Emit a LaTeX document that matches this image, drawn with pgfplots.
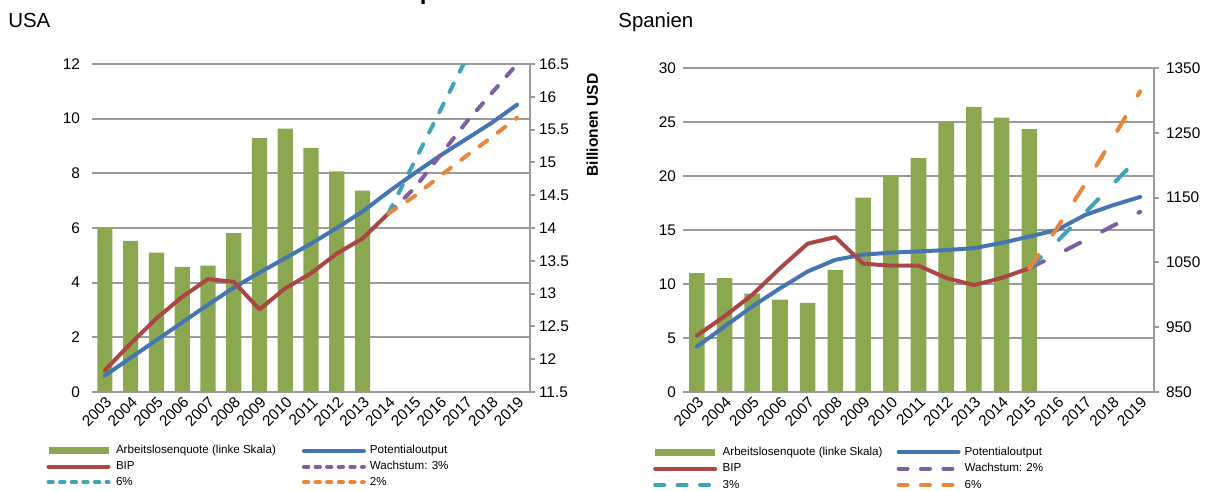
\documentclass[border=0pt]{standalone}
\usepackage{fontspec}
\setmainfont{Liberation Sans}
\usepackage{pgfplots}
\pgfplotsset{compat=1.18}
\definecolor{cgreen}{RGB}{139,167,80}
\definecolor{cblue}{RGB}{70,118,178}
\definecolor{cred}{RGB}{170,70,67}
\definecolor{cpurple}{RGB}{125,96,160}
\definecolor{ccyan}{RGB}{64,163,188}
\definecolor{corange}{RGB}{232,135,58}
\definecolor{cgrid}{RGB}{155,155,155}

% USA data
\pgfplotstableread{
x y
2003 6.0
2004 5.53
2005 5.1
2006 4.58
2007 4.62
2008 5.81
2009 9.29
2010 9.64
2011 8.93
2012 8.07
2013 7.37
}\usaAL
\pgfplotstableread{
x y
2003 11.75
2004 12.02
2005 12.29
2006 12.56
2007 12.83
2008 13.09
2009 13.32
2010 13.54
2011 13.76
2012 14.00
2013 14.25
2014 14.55
2015 14.83
2016 15.10
2017 15.35
2018 15.60
2019 15.88
}\usaPot
\pgfplotstableread{
x y
2003 11.83
2004 12.24
2005 12.62
2006 12.95
2007 13.22
2008 13.18
2009 12.76
2010 13.08
2011 13.31
2012 13.61
2013 13.84
2014 14.22
}\usaBIP
\pgfplotstableread{
x y
2014 14.22
2015 14.60
2016 15.10
2017 15.60
2018 16.05
2019 16.50
}\usaW
\pgfplotstableread{
x y
2014 14.22
2015 15.00
2016 15.78
2017 16.56
}\usaS
\pgfplotstableread{
x y
2014 14.22
2015 14.48
2016 14.79
2017 15.09
2018 15.38
2019 15.68
}\usaZ

% Spain data
\pgfplotstableread{
x y
2003 11.0
2004 10.55
2005 9.1
2006 8.55
2007 8.25
2008 11.3
2009 18.0
2010 20.0
2011 21.65
2012 25.0
2013 26.4
2014 25.4
2015 24.35
}\esAL
\pgfplotstableread{
x y
2003 920
2004 951
2005 982
2006 1010
2007 1036
2008 1054
2009 1062
2010 1065
2011 1067
2012 1069
2013 1072
2014 1080
2015 1090
2016 1100
2017 1123
2018 1138
2019 1151
}\esPot
\pgfplotstableread{
x y
2003 937
2004 967
2005 1000
2006 1041
2007 1079
2008 1089
2009 1048
2010 1045
2011 1045
2012 1026
2013 1015
2014 1026
2015 1041
}\esBIP
\pgfplotstableread{
x y
2015 1041
2016 1062
2017 1084
2018 1106
2019 1128
}\esZ
\pgfplotstableread{
x y
2015 1041
2016 1082
2017 1126
2018 1170
2019 1214
}\esD
\pgfplotstableread{
x y
2015 1041
2016 1103
2017 1170
2018 1240
2019 1314
}\esS

\pgfplotsset{
  common/.style={
    scale only axis,
    xmin=2002.5, xmax=2019.5,
    xtick={2003,...,2019},
    xticklabels={2003,2004,2005,2006,2007,2008,2009,2010,2011,2012,2013,2014,2015,2016,2017,2018,2019},
    tick label style={font=\fontsize{7.7}{9}\selectfont, /pgf/number format/assume math mode=true, /pgf/number format/1000 sep={}},
  },
  leftax/.style={
    common,
    axis x line*=bottom, axis y line*=left,
    x axis line style={cgrid, line width=1pt, -},
    y axis line style={draw=none},
    major tick length=0pt,
    ymajorgrids, grid style={cgrid, line width=1pt},
    xticklabel style={rotate=45, anchor=north east, inner sep=1pt},
    ybar, bar width=7.6pt,
  },
  rightax/.style={
    common,
    axis y line*=right, axis x line=none,
    y axis line style={cgrid, line width=1pt, -},
    ytick style={cgrid, line width=1pt},
    tick align=outside, major tick length=2.5pt,
    legend columns=2, legend cell align=left,
    legend image code/.code={\draw[##1] (0pt,0pt) -- (30pt,0pt);},
  },
  ln/.style={line width=2pt, line cap=round, line join=round, forget plot},
  usd/.style={ln, dash pattern=on 4.75pt off 6.6pt},
  esd/.style={ln, dash pattern=on 8pt off 12.4pt},
}

\begin{document}
\begin{tikzpicture}
\useasboundingbox (0,0) rectangle (607pt,245.5pt);
\begin{scope}
\clip (0,0) rectangle (607pt,245.5pt);
\node[anchor=base west, inner sep=0pt, font=\bfseries\fontsize{12}{14}\selectfont] at (209.7pt,245.6pt) {p};
\end{scope}
\node[anchor=base west, inner sep=0pt, font=\fontsize{10.2}{12}\selectfont] at (4pt,231.5pt) {USA};
\node[anchor=base west, inner sep=0pt, font=\fontsize{10.2}{12}\selectfont] at (309pt,231.5pt) {Spanien};

% ---------- USA ----------
\begin{axis}[leftax, at={(46pt,49.5pt)}, anchor=south west, width=219pt, height=164pt,
  ymin=0, ymax=12, ytick={0,2,...,12}, yticklabel style={xshift=-2.5pt}]
\addplot[fill=cgreen, draw=none] table[x=x,y=y] {\usaAL};
\end{axis}
\begin{axis}[rightax, at={(46pt,49.5pt)}, anchor=south west, width=219pt, height=164pt,
  ymin=11.5, ymax=16.5, ytick={11.5,12,12.5,13,13.5,14,14.5,15,15.5,16,16.5},
  yticklabel style={xshift=-1.5pt},
  ylabel={Billionen USD},
  ylabel style={font=\bfseries\fontsize{7.8}{9}\selectfont, at={(axis description cs:1.142,0.814)}, anchor=center, rotate=0},
  legend style={at={(axis description cs:-0.1073,-0.1607)}, anchor=north west, draw=none, fill=none,
    inner sep=0pt, outer sep=0pt, font=\fontsize{5.8}{7}\selectfont,
    nodes={inner xsep=0pt, inner ysep=0pt, text height=4.6pt, text depth=1.4pt},
    row sep=1.9pt, column sep=0pt,
    /tikz/column 1/.style={column sep=2pt},
    /tikz/column 2/.style={column sep=13pt},
    /tikz/column 3/.style={column sep=2pt}}]
\addplot[ln, cblue] table[x=x,y=y] {\usaPot};
\addplot[ln, cred] table[x=x,y=y] {\usaBIP};
\addplot[usd, cpurple] table[x=x,y=y] {\usaW};
\addplot[usd, ccyan] table[x=x,y=y] {\usaS};
\addplot[usd, corange] table[x=x,y=y] {\usaZ};
\addlegendimage{cgreen, line width=3.5pt}
\addlegendentry{Arbeitslosenquote (linke Skala)}
\addlegendimage{cblue, line width=2pt, line cap=round}
\addlegendentry{Potentialoutput}
\addlegendimage{cred, line width=2pt, line cap=round}
\addlegendentry{BIP}
\addlegendimage{cpurple, line width=2pt, line cap=round, dash pattern=on 2.2pt off 3.6pt}
\addlegendentry{Wachstum: 3\%}
\addlegendimage{ccyan, line width=2pt, line cap=round, dash pattern=on 2.2pt off 3.6pt}
\addlegendentry{6\%}
\addlegendimage{corange, line width=2pt, line cap=round, dash pattern=on 2.2pt off 3.6pt}
\addlegendentry{2\%}
\end{axis}

% ---------- Spanien ----------
\begin{axis}[leftax, at={(341.5pt,49.5pt)}, anchor=south west, width=235.5pt, height=162pt,
  ymin=0, ymax=30, ytick={0,5,...,30}, bar width=7.8pt]
\addplot[fill=cgreen, draw=none] table[x=x,y=y] {\esAL};
\end{axis}
\begin{axis}[rightax, at={(341.5pt,49.5pt)}, anchor=south west, width=235.5pt, height=162pt,
  ymin=850, ymax=1350, ytick={850,950,...,1350},
  legend style={at={(axis description cs:-0.0665,-0.1667)}, anchor=north west, draw=none, fill=none,
    inner sep=0pt, outer sep=0pt, font=\fontsize{5.8}{7}\selectfont,
    nodes={inner xsep=0pt, inner ysep=0pt, text height=4.6pt, text depth=1.4pt},
    row sep=2.25pt, column sep=0pt,
    /tikz/column 1/.style={column sep=2pt},
    /tikz/column 2/.style={column sep=7pt},
    /tikz/column 3/.style={column sep=2pt}}]
\addplot[ln, cblue] table[x=x,y=y] {\esPot};
\addplot[ln, cred] table[x=x,y=y] {\esBIP};
\addplot[esd, cpurple] table[x=x,y=y] {\esZ};
\addplot[esd, ccyan] table[x=x,y=y] {\esD};
\addplot[esd, corange] table[x=x,y=y] {\esS};
\addlegendimage{cgreen, line width=3.5pt}
\addlegendentry{Arbeitslosenquote (linke Skala)}
\addlegendimage{cblue, line width=2pt, line cap=round}
\addlegendentry{Potentialoutput}
\addlegendimage{cred, line width=2pt, line cap=round}
\addlegendentry{BIP}
\addlegendimage{cpurple, line width=2pt, line cap=round, dash pattern=on 4.5pt off 6.7pt}
\addlegendentry{Wachstum: 2\%}
\addlegendimage{ccyan, line width=2pt, line cap=round, dash pattern=on 4.5pt off 6.7pt}
\addlegendentry{3\%}
\addlegendimage{corange, line width=2pt, line cap=round, dash pattern=on 4.5pt off 6.7pt}
\addlegendentry{6\%}
\end{axis}
\end{tikzpicture}
\end{document}
